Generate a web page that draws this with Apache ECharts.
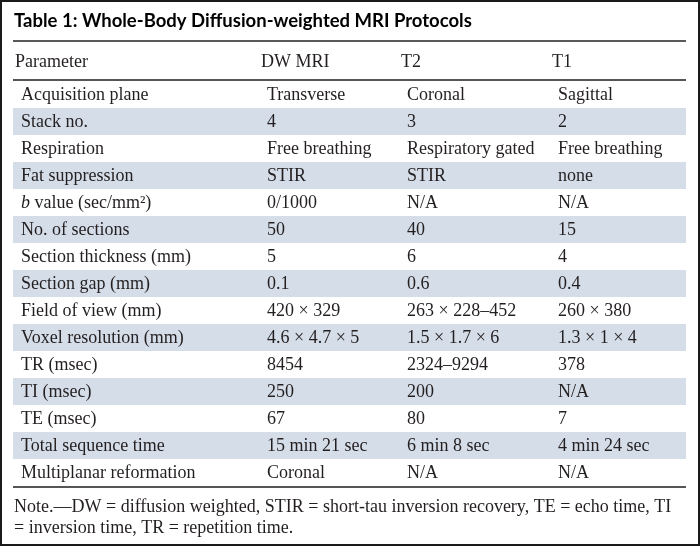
<!DOCTYPE html>
<html><head><meta charset="utf-8">
<script src="https://cdn.jsdelivr.net/npm/echarts@6/dist/echarts.min.js"></script>
<style>html,body{margin:0;padding:0;background:#fff}#c{width:700px;height:546px}</style>
</head><body><div id="c"></div>
<script>
// ---- data ----
const tableTitle = 'Table 1: Whole-Body Diffusion-weighted MRI Protocols';
const headers = ['Parameter', 'DW MRI', 'T2', 'T1'];
const parameters = ['Acquisition plane', 'Stack no.', 'Respiration', 'Fat suppression',
  '{i|b} value (sec/mm²)', 'No. of sections', 'Section thickness (mm)', 'Section gap (mm)',
  'Field of view (mm)', 'Voxel resolution (mm)', 'TR (msec)', 'TI (msec)', 'TE (msec)',
  'Total sequence time', 'Multiplanar reformation'];
const dwMri = ['Transverse', '4', 'Free breathing', 'STIR', '0/1000', '50', '5', '0.1',
  '420 × 329', '4.6 × 4.7 × 5', '8454', '250', '67', '15 min 21 sec', 'Coronal'];
const t2 = ['Coronal', '3', 'Respiratory gated', 'STIR', 'N/A', '40', '6', '0.6',
  '263 × 228–452', '1.5 × 1.7 × 6', '2324–9294', '200', '80', '6 min 8 sec', 'N/A'];
const t1 = ['Sagittal', '2', 'Free breathing', 'none', 'N/A', '15', '4', '0.4',
  '260 × 380', '1.3 × 1 × 4', '378', 'N/A', '7', '4 min 24 sec', 'N/A'];
const noteLines = ['Note.—DW = diffusion weighted, STIR = short-tau inversion recovery, TE = echo time, TI',
  '= inversion time, TR = repetition time.'];

// ---- layout / style ----
const columns = [parameters, dwMri, t2, t1];
const W = 700, H = 546;
const L = 13, R = 14, TOP = 81, ROWH = 27;
const gridW = W - L - R;
const bodyX = [8, 254, 394, 545];
const headX = [2, 248, 388, 539];
const serif = '"Liberation Serif", "DejaVu Serif", serif';
const textColor = '#231f20';
const shade = '#d5dde8';
const FS = 18;

const cells = [];
columns.forEach((col, c) => col.forEach((t, r) => cells.push([c, r])));

const chart = echarts.init(document.getElementById('c'), null, {renderer: 'canvas'});
const bottomRuleY = TOP + ROWH * parameters.length;

chart.setOption({
  animation: false,
  backgroundColor: '#fff',
  grid: {left: L, right: R, top: TOP, height: ROWH * parameters.length, containLabel: false},
  xAxis: {type: 'value', min: 0, max: gridW, show: false},
  yAxis: {type: 'category', data: parameters, inverse: true, show: false},
  series: [
    {
      type: 'custom', silent: true,
      data: parameters.map((p, i) => [0, i]),
      renderItem(params, api) {
        const i = api.value(1);
        if (i % 2 === 0) return {type: 'group', children: []};
        const p = api.coord([0, i]);
        const band = api.size([0, 1])[1];
        const cs = params.coordSys;
        return {type: 'rect', shape: {x: cs.x, y: p[1] - band / 2, width: cs.width, height: band},
          style: {fill: shade}};
      }
    },
    {
      type: 'custom', silent: true, z: 5,
      data: cells,
      renderItem(params, api) {
        const c = api.value(0), r = api.value(1);
        const p = api.coord([bodyX[c], r]);
        return {type: 'text', x: p[0], y: p[1] + 1,
          style: {text: columns[c][r], fill: textColor, fontFamily: serif, fontSize: FS,
            align: 'left', verticalAlign: 'middle',
            rich: {i: {fontStyle: 'italic', fontFamily: serif, fontSize: FS, fill: textColor}}}};
      }
    }
  ],
  graphic: [
    {type: 'rect', shape: {x: 1, y: 1, width: W - 2, height: H - 2}, style: {fill: 'none', stroke: '#1a1a1a', lineWidth: 2}, z: 10},
    {type: 'text', x: 14, y: 21, style: {text: tableTitle, fontFamily: 'Lato, "DejaVu Sans", sans-serif', fontWeight: 'bold', fontSize: 18.5, fill: '#000', verticalAlign: 'middle'}},
    {type: 'line', shape: {x1: L, y1: 41, x2: W - R, y2: 41}, style: {stroke: '#222', lineWidth: 1.5}},
    ...headers.map((h, i) => ({type: 'text', x: L + headX[i], y: 62, style: {text: h, fontFamily: serif, fontSize: FS, fill: textColor, verticalAlign: 'middle'}})),
    {type: 'line', shape: {x1: L, y1: TOP - 1, x2: W - R, y2: TOP - 1}, style: {stroke: '#555', lineWidth: 2}},
    {type: 'line', shape: {x1: L, y1: bottomRuleY + 1, x2: W - R, y2: bottomRuleY + 1}, style: {stroke: '#555', lineWidth: 2}},
    ...noteLines.map((t, i) => ({type: 'text', x: 14, y: 507 + i * 21, style: {text: t, fontFamily: serif, fontSize: FS, fill: textColor, verticalAlign: 'middle'}}))
  ]
});
</script></body></html>
